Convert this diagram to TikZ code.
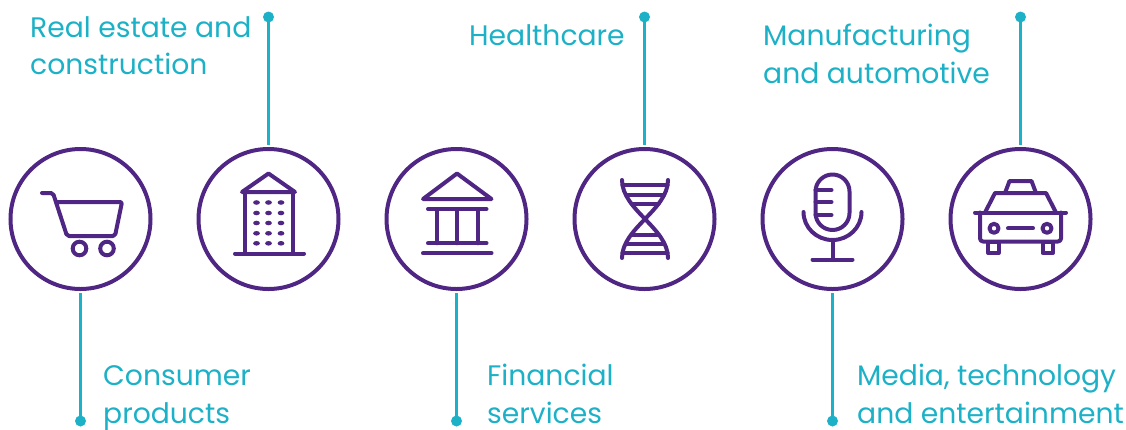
\documentclass[tikz,border=0pt]{standalone}
\usepackage{fontspec}
\setmainfont{Poppins}
\definecolor{purp}{HTML}{4F2683}
\definecolor{teal2}{HTML}{1CB1C6}
\begin{document}
\begin{tikzpicture}[x=1pt,y=-1pt,
  ring/.style={circle,draw=purp,line width=4pt,minimum size=140pt,inner sep=0pt},
  icon/.style={draw=purp,line width=4pt,line cap=round,line join=round},
  lead/.style={draw=teal2,line width=2.8pt},
  dot/.style={circle,fill=teal2,minimum size=11pt,inner sep=0pt},
  lbl/.style={text=teal2,anchor=base west,align=left,inner sep=0pt,font=\fontsize{28.2}{37.5}\selectfont}]
\useasboundingbox (0,0) rectangle (1126,429);
% circles
\node[ring] (c1) at (80.5,219) {};
\node[ring] (c2) at (268.5,219) {};
\node[ring] (c3) at (456.5,219) {};
\node[ring] (c4) at (644.5,219) {};
\node[ring] (c5) at (832.5,219) {};
\node[ring] (c6) at (1020.5,219) {};
% dots
\node[dot] (d1) at (80.5,421) {};
\node[dot] (d2) at (268.5,17) {};
\node[dot] (d3) at (456.5,421) {};
\node[dot] (d4) at (644.5,17) {};
\node[dot] (d5) at (832.5,421) {};
\node[dot] (d6) at (1020.5,17) {};
% leads
\draw[lead,shorten <=2pt] (c1.south) -- (d1.center);
\draw[lead,shorten <=2pt] (c2.north) -- (d2.center);
\draw[lead,shorten <=2pt] (c3.south) -- (d3.center);
\draw[lead,shorten <=2pt] (c4.north) -- (d4.center);
\draw[lead,shorten <=2pt] (c5.south) -- (d5.center);
\draw[lead,shorten <=2pt] (c6.north) -- (d6.center);
% labels (anchor = baseline of last line)
\node[lbl] (t1) at (103,423) {Consumer\\products};
\node[lbl] (t2) at (30,74.5) {Real estate and\\construction};
\node[lbl] (t3) at (487,423) {Financial\\services};
\node[lbl] (t4) at (469,45) {Healthcare};
\node[lbl] (t5) at (857,423) {Media, technology\\and entertainment};
\node[lbl] (t6) at (763,83) {Manufacturing\\and automotive};
% cart
\draw[icon,rounded corners=2pt] (42,193) -- (53,193) -- (67,236) -- (115,236) -- (122,202) -- (56,202);
\draw[icon] (79.5,248.5) circle[radius=6.8pt];
\draw[icon] (107,248.5) circle[radius=6.8pt];
% building
\draw[icon] (242,192) -- (268.5,173.5) -- (295,192) -- cycle;
\draw[icon] (245,192) rectangle (292.5,253.5);
\draw[icon] (235,253.5) -- (304,253.5);
\foreach \xx in {256.5,268.5,281}
  \foreach \yy in {202.5,213,223,233.3,243.3}
    \fill[purp] (\xx,\yy) ellipse[x radius=3.4pt,y radius=2.3pt];
% bank
\draw[icon] (423,199) -- (457,173.5) -- (491.5,199) -- cycle;
\draw[icon] (428,209) -- (486.5,209);
\draw[icon] (437,209) -- (437,243.3);
\draw[icon] (457,209) -- (457,243.3);
\draw[icon] (477.5,209) -- (477.5,243.3);
\draw[icon] (428,243.3) -- (486.5,243.3);
\draw[icon] (423,253.3) -- (491.5,253.3);
% dna
\draw[icon] (622,180) .. controls (622,210) and (668,228) .. (668,258);
\draw[icon] (668,180) .. controls (668,210) and (622,228) .. (622,258);
\draw[icon] (622.5,185) -- (667.5,185);
\draw[icon] (626,194.5) -- (664,194.5);
\draw[icon] (631.5,203.5) -- (658.5,203.5);
\draw[icon] (631.5,234.5) -- (658.5,234.5);
\draw[icon] (626,243.5) -- (664,243.5);
\draw[icon] (622.5,253) -- (667.5,253);
% mic
\draw[icon,rounded corners=17pt] (815.5,174.5) rectangle (849.5,230);
\draw[icon] (815.5,190) -- (831.5,190);
\draw[icon] (815.5,202) -- (831.5,202);
\draw[icon] (815.5,215) -- (831.5,215);
\draw[icon] (803.5,212) .. controls (803.5,227.5) and (816.5,240) .. (832.5,240) .. controls (848.5,240) and (861.5,227.5) .. (861.5,212);
\draw[icon] (832.5,240) -- (832.5,259.5);
\draw[icon] (812.5,259.5) -- (852.5,259.5);
% car
\draw[icon] (1005,193) -- (1009.5,181) -- (1031.5,181) -- (1036,193);
\draw[icon] (985,212.5) -- (995,193) -- (1046,193) -- (1056,212.5);
\draw[icon] (975,212.5) -- (1066,212.5);
\draw[icon,rounded corners=3pt] (980,212.5) -- (980,241.5) -- (1061,241.5) -- (1061,212.5);
\draw[icon] (994,228.3) circle[radius=4.5pt];
\draw[icon] (1047,228.3) circle[radius=4.5pt];
\draw[icon] (1008,228.3) -- (1033,228.3);
\draw[icon] (988,241.5) rectangle (998.5,253);
\draw[icon] (1042.5,241.5) rectangle (1053,253);
\end{tikzpicture}
\end{document}
